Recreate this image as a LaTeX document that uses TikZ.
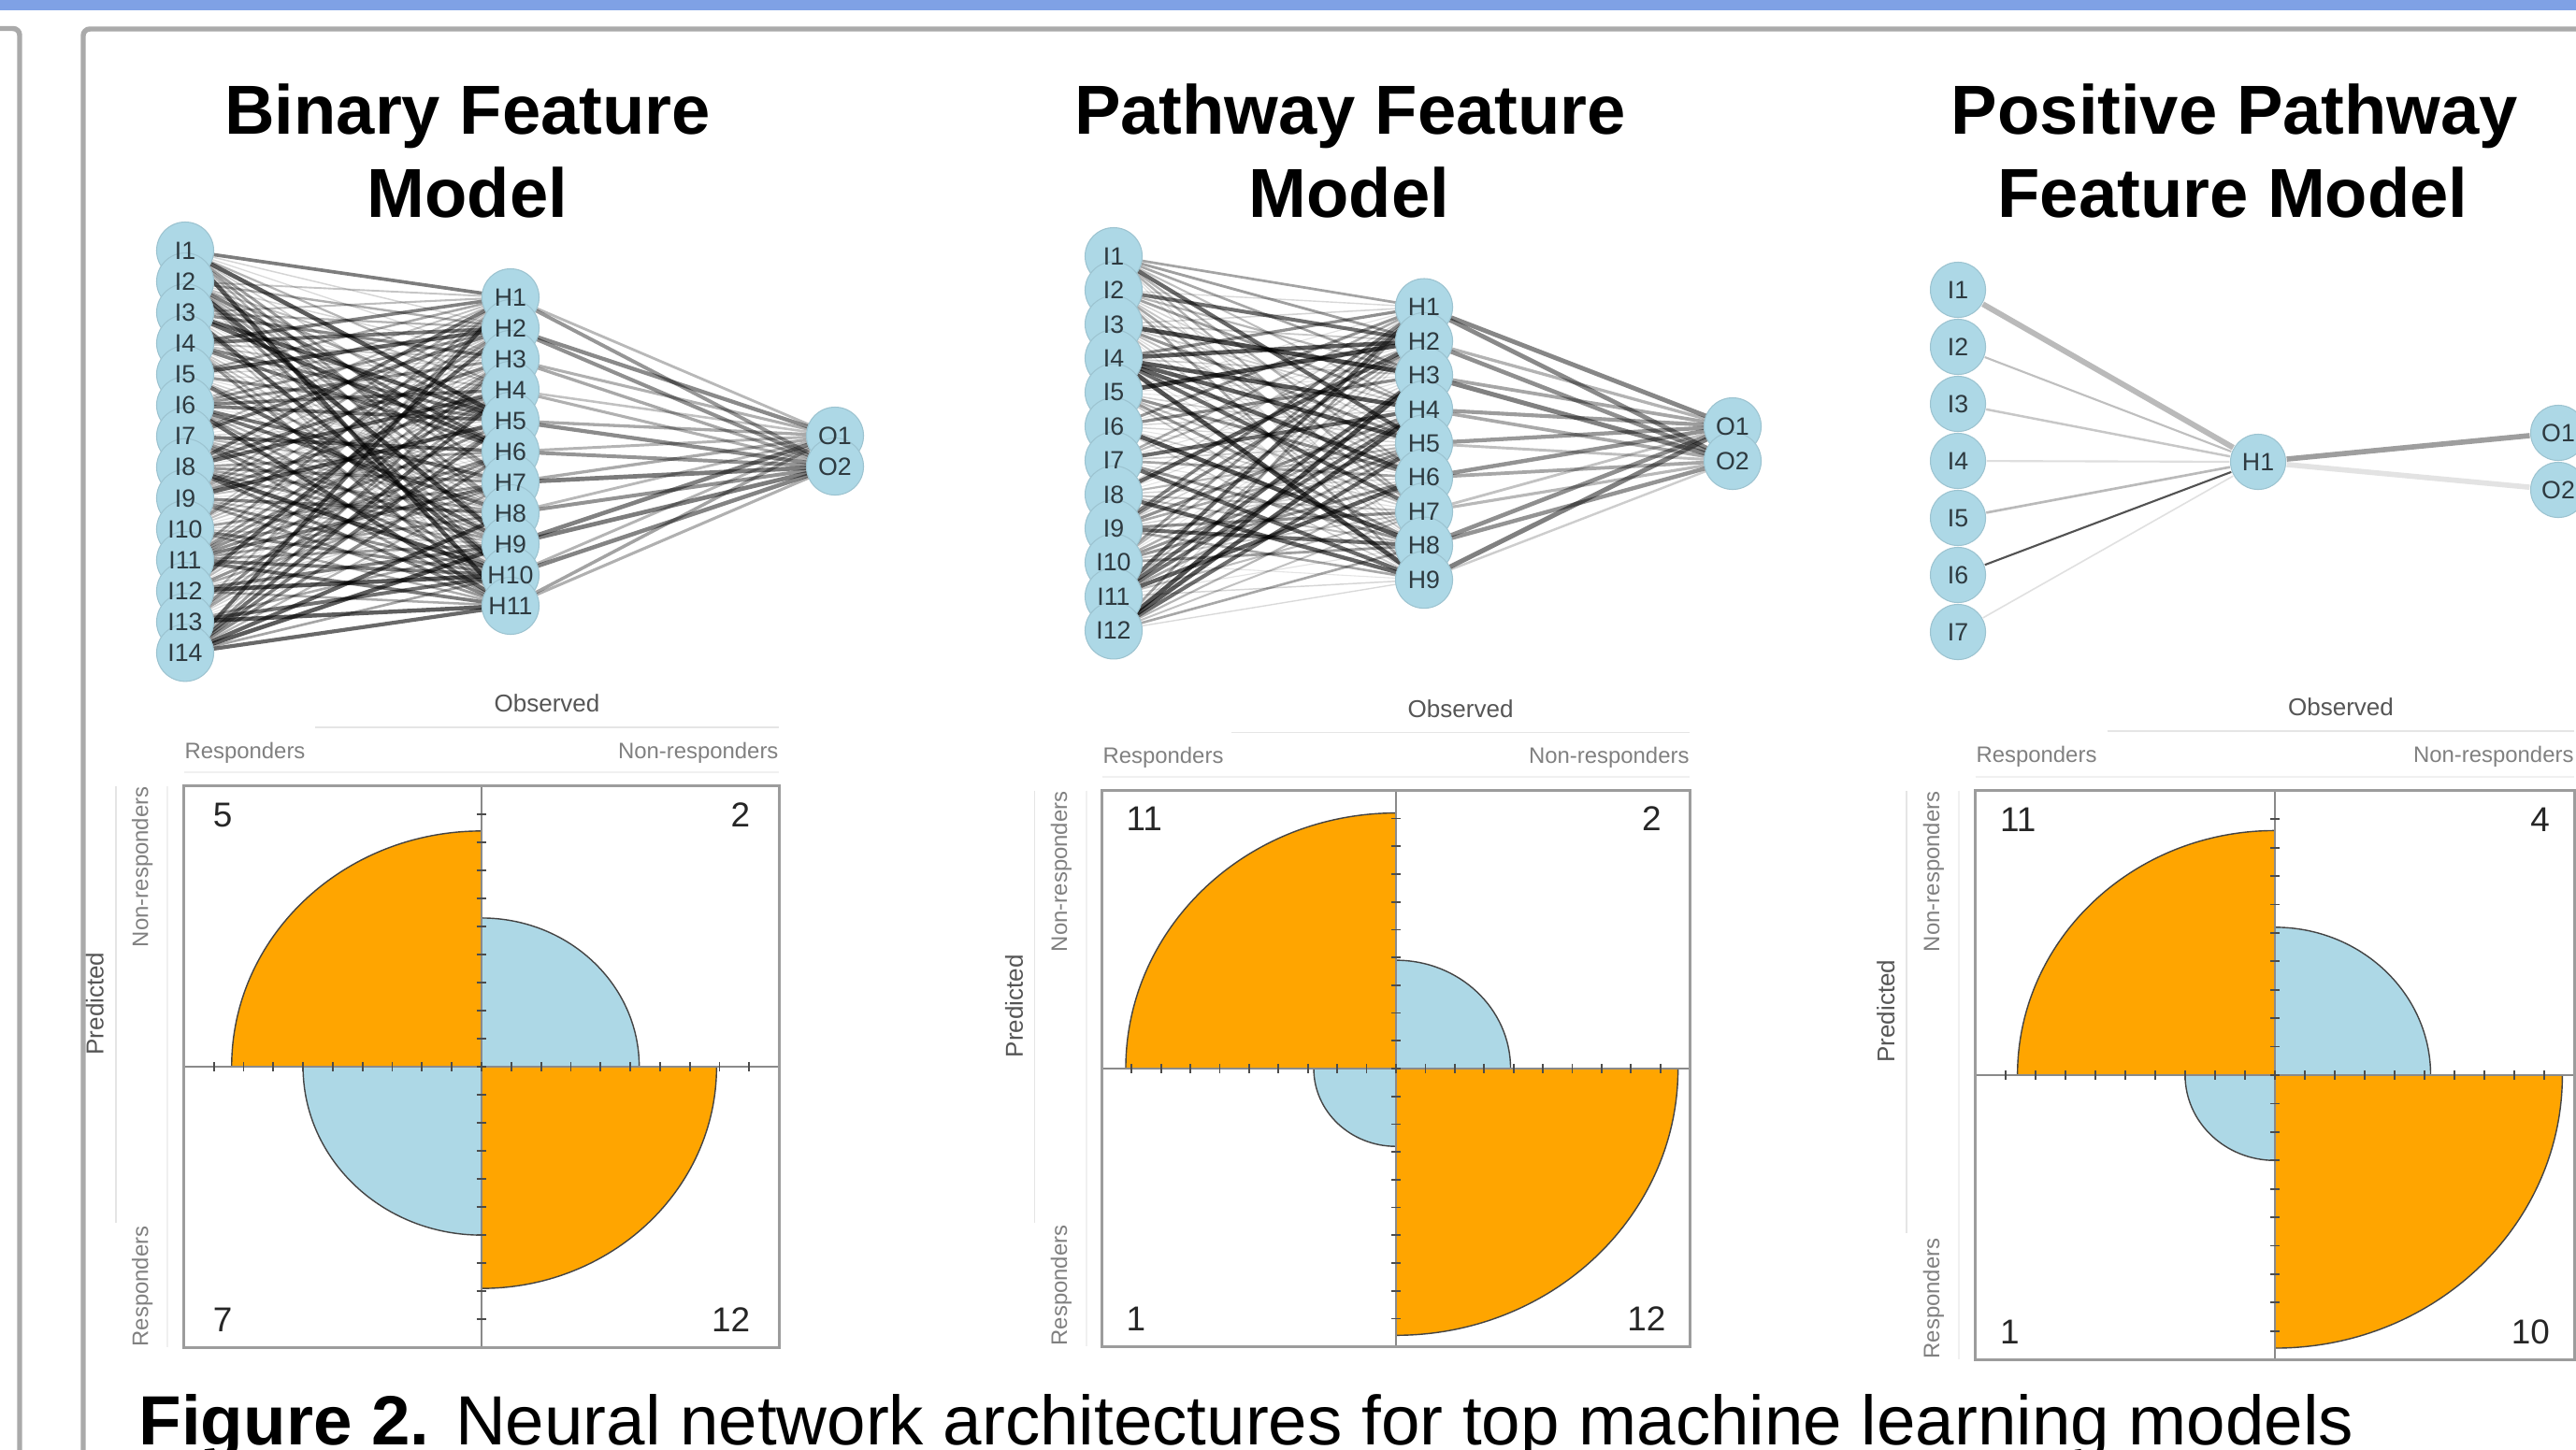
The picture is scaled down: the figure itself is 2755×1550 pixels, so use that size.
\documentclass[tikz,border=0pt]{standalone}
\usepackage{fontspec}
\setmainfont{Liberation Sans}

\definecolor{topbar}{HTML}{7FA1E5}
\definecolor{framegray}{HTML}{AAAAAA}
\definecolor{nodeblue}{HTML}{ADD8E6}
\definecolor{nodeline}{HTML}{9CC3D0}
\definecolor{labelgray}{HTML}{2E3A40}
\definecolor{wedgeorange}{HTML}{FFA500}
\definecolor{wedgeedge}{HTML}{444444}
\definecolor{axisgray}{HTML}{8A8A8A}
\definecolor{boxgray}{HTML}{9C9C9C}
\definecolor{obsgray}{HTML}{555555}
\definecolor{catgray}{HTML}{808080}

\pgfdeclarelayer{back}
\pgfdeclarelayer{wires}
\pgfdeclarelayer{disks}
\pgfsetlayers{back,wires,disks,main}

\tikzset{
  frame/.style={draw=framegray, line width=1.55pt, rounded corners=2pt},
  title/.style={anchor=base, inner sep=0pt, font=\fontsize{21.1}{25}\selectfont\bfseries},
  caption/.style={inner sep=0pt, font=\fontsize{21.2}{25}\selectfont},
  unit/.style={circle, minimum size=0.6cm, inner sep=0pt, text=labelgray,
    font=\fontsize{7.6}{8}\selectfont},
  disk/.style={fill=nodeblue, draw=nodeline, line width=0.3pt},
  wire/.style={draw=black},
  orangewedge/.style={fill=wedgeorange, draw=wedgeedge, line width=0.4pt},
  bluewedge/.style={fill=nodeblue, draw=wedgeedge, line width=0.4pt},
  axisline/.style={draw=axisgray, line width=0.6pt},
  tickmark/.style={draw=black!70, line width=0.5pt},
  boxline/.style={draw=boxgray, line width=0.9pt},
  count/.style={inner sep=0pt, text=black!85, font=\fontsize{10.5}{12}\selectfont},
  obslabel/.style={inner sep=0pt, text=obsgray, font=\fontsize{7.4}{9}\selectfont},
  catlabel/.style={inner sep=0pt, text=catgray, font=\fontsize{6.8}{8}\selectfont},
  faintline/.style={draw=black!10, line width=0.5pt},
  fainterline/.style={draw=black!6, line width=0.6pt}
}

% axes, ticks and box of one fourfold plot (unit = tenth of half box)
\newcommand{\ffaxes}{%
  \draw[axisline] (-10,0) -- (10,0);
  \draw[axisline] (0,-10) -- (0,10);
  \foreach \k in {-9,...,9}{
    \draw[tickmark] (\k,-0.17) -- (\k,0.17);
    \draw[tickmark] (-0.16,\k) -- (0.16,\k);
  }
  \draw[boxline] (-10,-10) rectangle (10,10);
}
\newcommand{\fflabels}[1]{%
  \node[obslabel] (#1-obs) at (2.2,-12.95) {Observed};
  \draw[faintline] (-5.6,-12.1) -- (10,-12.1);
  \node[catlabel, anchor=west] (#1-cr) at (-10,-11.2) {Responders};
  \node[catlabel, anchor=east] (#1-cn) at (10,-11.2) {Non-responders};
  \draw[fainterline] (-10,-10.5) -- (10,-10.5);
  \node[obslabel, rotate=90] (#1-pred) at (-13,-2.25) {Predicted};
  \draw[faintline] (-12.3,-10) -- (-12.3,5.55);
  \node[catlabel, rotate=90, anchor=east] (#1-rn) at (-11.4,-10) {Non-responders};
  \node[catlabel, rotate=90, anchor=west] (#1-rr) at (-11.4,10) {Responders};
  \draw[fainterline] (-10.55,-10) -- (-10.55,10);
}

\begin{document}
\begin{tikzpicture}[x=0.01cm, y=-0.01cm]
  \useasboundingbox (0,0) rectangle (2755,1550);
  \begin{pgfonlayer}{back}
    \fill[white] (0,0) rectangle (2755,1550);
  \end{pgfonlayer}
  % slide frame
  \fill[topbar] (0,0) rectangle (2755,10.7);
  \draw[frame] (-20,30.5) -- (21,30.5) -- (21,1590);
  \draw[frame] (89,1590) -- (89,31) -- (2800,31);

  \node[title] (t-bin1) at (500,143) {Binary Feature};
  \node[title] (t-bin2) at (500,232) {Model};
  \node[title] (t-pw1) at (1444,143) {Pathway Feature};
  \node[title] (t-pw2) at (1443,232) {Model};
  \node[title] (t-pos1) at (2390,143) {Positive Pathway};
  \node[title] (t-pos2) at (2388,232) {Feature Model};

  % binary feature model
  \foreach \i in {1,...,14}{
    \node[unit] (b-i\i) at (198,{268+(\i-1)*33.1}) {I\i};
    \begin{pgfonlayer}{disks}\draw[disk] (b-i\i.center) circle[radius=0.305cm];\end{pgfonlayer}
  }
  \foreach \j in {1,...,11}{
    \node[unit] (b-h\j) at (546,{318+(\j-1)*33}) {H\j};
    \begin{pgfonlayer}{disks}\draw[disk] (b-h\j.center) circle[radius=0.305cm];\end{pgfonlayer}
  }
  \foreach \k in {1,2}{
    \node[unit] (b-o\k) at (893,{466+(\k-1)*33}) {O\k};
    \begin{pgfonlayer}{disks}\draw[disk] (b-o\k.center) circle[radius=0.305cm];\end{pgfonlayer}
  }
  \pgfmathsetseed{27}
  \begin{pgfonlayer}{wires}
    \foreach \i in {1,...,14}
      \foreach \j in {1,...,11}{
        \pgfmathsetmacro\s{rnd^1.3}
        \pgfmathsetmacro\lw{0.3+1.0*\s}
        \pgfmathsetmacro\op{0.1+0.55*\s}
        \draw[wire, line width=\lw pt, draw opacity=\op] (b-i\i) -- (b-h\j);
      }
    \foreach \j in {1,...,11}
      \foreach \k in {1,2}{
        \pgfmathsetmacro\s{0.3+0.7*rnd}
        \pgfmathsetmacro\lw{0.45+0.9*\s}
        \pgfmathsetmacro\op{0.12+0.4*\s}
        \draw[wire, line width=\lw pt, draw opacity=\op] (b-h\j) -- (b-o\k);
      }
  \end{pgfonlayer}

  % pathway feature model
  \foreach \i in {1,...,12}{
    \node[unit] (w-i\i) at (1191,{274+(\i-1)*36.4}) {I\i};
    \begin{pgfonlayer}{disks}\draw[disk] (w-i\i.center) circle[radius=0.305cm];\end{pgfonlayer}
  }
  \foreach \j in {1,...,9}{
    \node[unit] (w-h\j) at (1523,{328.5+(\j-1)*36.45}) {H\j};
    \begin{pgfonlayer}{disks}\draw[disk] (w-h\j.center) circle[radius=0.305cm];\end{pgfonlayer}
  }
  \foreach \k in {1,2}{
    \node[unit] (w-o\k) at (1853,{456+(\k-1)*37}) {O\k};
    \begin{pgfonlayer}{disks}\draw[disk] (w-o\k.center) circle[radius=0.305cm];\end{pgfonlayer}
  }
  \pgfmathsetseed{311}
  \begin{pgfonlayer}{wires}
    \foreach \i in {1,...,12}
      \foreach \j in {1,...,9}{
        \pgfmathsetmacro\s{rnd^1.3}
        \pgfmathsetmacro\lw{0.3+1.1*\s}
        \pgfmathsetmacro\op{0.1+0.6*\s}
        \draw[wire, line width=\lw pt, draw opacity=\op] (w-i\i) -- (w-h\j);
      }
    \foreach \j in {1,...,9}
      \foreach \k in {1,2}{
        \pgfmathsetmacro\s{0.2+0.8*rnd}
        \pgfmathsetmacro\lw{0.45+1.0*\s}
        \pgfmathsetmacro\op{0.1+0.4*\s}
        \draw[wire, line width=\lw pt, draw opacity=\op] (w-h\j) -- (w-o\k);
      }
  \end{pgfonlayer}

  % positive pathway feature model
  \foreach \i in {1,...,7}{
    \node[unit] (p-i\i) at (2094,{310+(\i-1)*61}) {I\i};
    \begin{pgfonlayer}{disks}\draw[disk] (p-i\i.center) circle[radius=0.295cm];\end{pgfonlayer}
  }
  \node[unit] (p-h1) at (2415,494) {H1};
  \node[unit] (p-o1) at (2736,463) {O1};
  \node[unit] (p-o2) at (2736,524) {O2};
  \begin{pgfonlayer}{disks}
    \foreach \n in {p-h1,p-o1,p-o2}
      \draw[disk] (\n.center) circle[radius=0.295cm];
  \end{pgfonlayer}
  \begin{pgfonlayer}{wires}
    \draw[draw=black!27, line width=1.7pt] (p-i1) -- (p-h1);
    \draw[draw=black!25, line width=0.6pt] (p-i2) -- (p-h1);
    \draw[draw=black!22, line width=0.7pt] (p-i3) -- (p-h1);
    \draw[draw=black!13, line width=0.6pt] (p-i4) -- (p-h1);
    \draw[draw=black!27, line width=0.75pt] (p-i5) -- (p-h1);
    \draw[draw=black!68, line width=0.6pt] (p-i6) -- (p-h1);
    \draw[draw=black!12, line width=0.45pt] (p-i7) -- (p-h1);
    \draw[draw=black!38, line width=1.6pt] (p-h1) -- (p-o1);
    \draw[draw=black!11, line width=1.6pt] (p-h1) -- (p-o2);
  \end{pgfonlayer}

  % fourfold plots
  \begin{scope}[shift={(515,1141)}, x=0.318cm, y=-0.3cm]
    \filldraw[orangewedge] (0,0) -- (-8.4,0) arc[start angle=180, end angle=270, radius=8.4] -- cycle;
    \filldraw[bluewedge] (0,0) -- (0,-5.3) arc[start angle=270, end angle=360, radius=5.3] -- cycle;
    \filldraw[bluewedge] (0,0) -- (0,6) arc[start angle=90, end angle=180, radius=6] -- cycle;
    \filldraw[orangewedge] (0,0) -- (7.9,0) arc[start angle=0, end angle=90, radius=7.9] -- cycle;
    \ffaxes
    \node[count, anchor=base west] (b-n11) at (-9.05,-8.55) {5};
    \node[count, anchor=base east] (b-n12) at (9.05,-8.55) {2};
    \node[count, anchor=base west] (b-n21) at (-9.05,9.45) {7};
    \node[count, anchor=base east] (b-n22) at (9.05,9.45) {12};
    \fflabels{b}
  \end{scope}

  \begin{scope}[shift={(1493,1143)}, x=0.314cm, y=-0.297cm]
    \filldraw[orangewedge] (0,0) -- (-9.2,0) arc[start angle=180, end angle=270, radius=9.2] -- cycle;
    \filldraw[bluewedge] (0,0) -- (0,-3.9) arc[start angle=270, end angle=360, radius=3.9] -- cycle;
    \filldraw[bluewedge] (0,0) -- (0,2.8) arc[start angle=90, end angle=180, radius=2.8] -- cycle;
    \filldraw[orangewedge] (0,0) -- (9.6,0) arc[start angle=0, end angle=90, radius=9.6] -- cycle;
    \ffaxes
    \node[count, anchor=base west] (w-n11) at (-9.2,-8.55) {11};
    \node[count, anchor=base east] (w-n12) at (9.05,-8.55) {2};
    \node[count, anchor=base west] (w-n21) at (-9.2,9.45) {1};
    \node[count, anchor=base east] (w-n22) at (9.2,9.45) {12};
    \fflabels{w}
  \end{scope}

  \begin{scope}[shift={(2433,1150)}, x=0.32cm, y=-0.304cm]
    \filldraw[orangewedge] (0,0) -- (-8.6,0) arc[start angle=180, end angle=270, radius=8.6] -- cycle;
    \filldraw[bluewedge] (0,0) -- (0,-5.2) arc[start angle=270, end angle=360, radius=5.2] -- cycle;
    \filldraw[bluewedge] (0,0) -- (0,3) arc[start angle=90, end angle=180, radius=3] -- cycle;
    \filldraw[orangewedge] (0,0) -- (9.6,0) arc[start angle=0, end angle=90, radius=9.6] -- cycle;
    \ffaxes
    \node[count, anchor=base west] (p-n11) at (-9.2,-8.55) {11};
    \node[count, anchor=base east] (p-n12) at (9.2,-8.55) {4};
    \node[count, anchor=base west] (p-n21) at (-9.2,9.45) {1};
    \node[count, anchor=base east] (p-n22) at (9.2,9.45) {10};
    \fflabels{p}
  \end{scope}

  \node[caption, anchor=base west] (cap) at (148,1545)
    {\textbf{Figure 2.} Neural network architectures for top machine learning models};
\end{tikzpicture}
\end{document}
